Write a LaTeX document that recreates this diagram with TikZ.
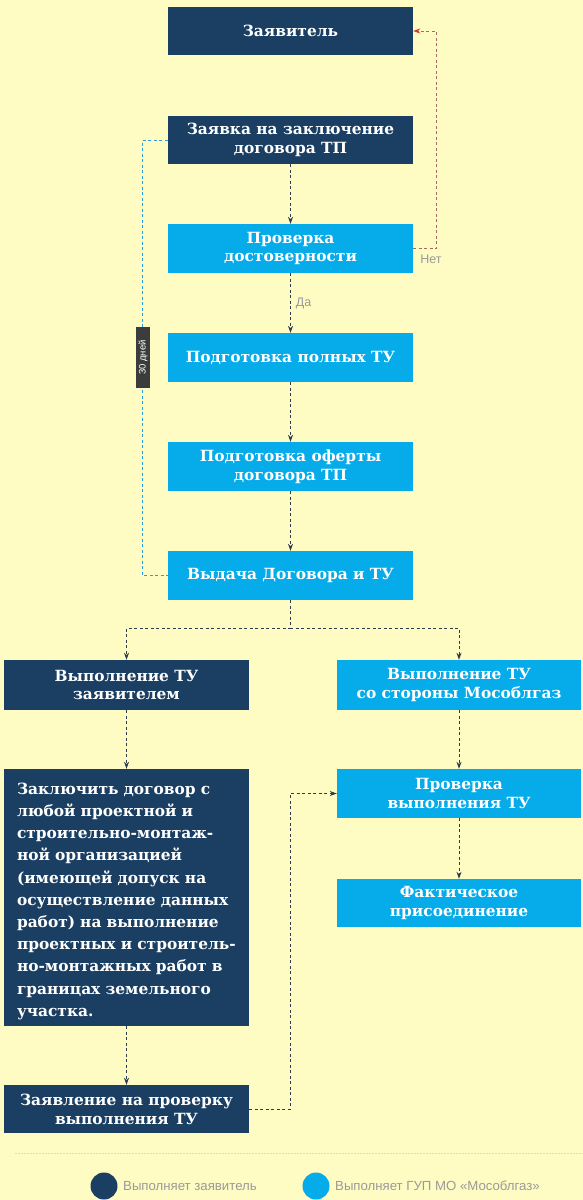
\documentclass[tikz,border=0pt]{standalone}
\usepackage{fontspec}
\setmainfont{Liberation Sans}
\newfontfamily\boxfont{DejaVu Serif}
\usetikzlibrary{arrows.meta}
\definecolor{bgc}{HTML}{FEFCC2}
\definecolor{navy}{HTML}{1A3F62}
\definecolor{sky}{HTML}{06ABEA}
\definecolor{lnc}{HTML}{2E3D4E}
\definecolor{bluel}{HTML}{2B9FD9}
\definecolor{redl}{HTML}{A86A62}
\definecolor{redt}{HTML}{E03030}
\definecolor{lblc}{HTML}{9A9A9A}
\definecolor{tagc}{HTML}{3C3C3C}
\definecolor{sepc}{HTML}{D2DCD0}
\tikzset{
  boxbase/.style={rectangle, text=white, minimum width=245pt, minimum height=49pt, inner sep=2pt,
    align=center, font=\boxfont\bfseries\fontsize{15.4}{18.8}\selectfont},
  darkbox/.style={boxbase, fill=navy},
  lightbox/.style={boxbase, fill=sky},
  conn/.style={lnc, line width=0.9pt, dash pattern=on 3pt off 2.5pt, -{Stealth[length=7pt,width=5pt]}},
  lbl/.style={text=lblc, font=\fontsize{12.5}{14}\selectfont, inner sep=0pt},
  leg/.style={text=lblc, font=\fontsize{13.2}{15}\selectfont, inner sep=0pt},
}
\begin{document}
\begin{tikzpicture}[x=1pt,y=-1pt]
\fill[bgc] (0,0) rectangle (583,1200);
\useasboundingbox (0,0) rectangle (583,1200);

\node[darkbox, minimum height=48pt] (zv) at (290.5,31) {Заявитель};
\node[darkbox, minimum height=48pt] (zk) at (290.5,140) {Заявка на заключение\\договора ТП};
\node[lightbox] (pd) at (290.5,248.5) {Проверка\\достоверности};
\node[lightbox] (pp) at (290.5,357.5) {Подготовка полных ТУ};
\node[lightbox] (po) at (290.5,466.5) {Подготовка оферты\\договора ТП};
\node[lightbox] (vd) at (290.5,575.5) {Выдача Договора и ТУ};

\node[darkbox, minimum height=50pt] (vz) at (126.5,685) {Выполнение ТУ\\заявителем};
\node[lightbox, minimum height=50pt, minimum width=244pt] (vm) at (459,685) {Выполнение ТУ\\со стороны Мособлгаз};

\node[darkbox, minimum height=257pt, text width=219pt, inner xsep=13pt, align=left,
  font=\boxfont\bfseries\fontsize{15.4}{22.2}\selectfont] (big) at (126.5,897.5)
  {\rule{0pt}{19pt}Заключить договор с\\любой проектной и\\строительно-монтаж-\\ной организацией\\(имеющей допуск на\\осуществление данных\\работ) на выполнение\\проектных и строитель-\\но-монтажных работ в\\границах земельного\\участка.};

\node[lightbox, minimum width=244pt] (pv) at (459,793.5) {Проверка\\выполнения ТУ};
\node[lightbox, minimum width=244pt, minimum height=48pt] (fp) at (459,903) {Фактическое\\присоединение};
\node[darkbox, minimum height=48pt] (zp) at (126.5,1109) {Заявление на проверку\\выполнения ТУ};

% main chain
\draw[conn] (zk.south) -- (pd.north);
\draw[conn] (pd.south) -- node[lbl, right=5pt, pos=0.5] (da) {Да} (pp.north);
\draw[conn] (pp.south) -- (po.north);
\draw[conn] (po.south) -- (vd.north);

% Нет loop
\draw[redl, line width=0.9pt, dash pattern=on 3pt off 2.5pt, -{Stealth[length=7pt,width=5pt,color=redt]}]
  (pd.east) -- ++(23,0) |- (zv.east);
\node[lbl] (net) at (431,259.5) {Нет};

% 30 days
\draw[bluel, line width=0.9pt, dash pattern=on 3pt off 2.5pt] (zk.west) -- ++(-25,0) |- (vd.west);
\node[fill=tagc, text=white, rotate=90, minimum width=61pt, minimum height=14pt, inner sep=0pt,
  font=\fontsize{9.5}{10}\selectfont] (days) at (143,357.5) {30 дней};

% split
\draw[conn] (vd.south) -- ++(0,28) -| (vz.north);
\draw[conn] (vd.south) -- ++(0,28) -| (vm.north);

\draw[conn] (vz.south) -- (big.north);
\draw[conn] (vm.south) -- (pv.north);
\draw[conn] (big.south) -- (zp.north);
\draw[conn] (pv.south) -- (fp.north);
\draw[conn] (zp.east) -- ++(41,0) |- (pv.west);

% legend
\draw[sepc, line width=0.8pt, dash pattern=on 1.5pt off 1.5pt] (15,1153) -- (583,1153);
\node[fill=navy, circle, minimum size=27pt, inner sep=0pt] (lg1) at (104,1186) {};
\node[leg, anchor=west] (lt1) at (123,1186) {Выполняет заявитель};
\node[fill=sky, circle, minimum size=27pt, inner sep=0pt] (lg2) at (316,1186) {};
\node[leg, anchor=west] (lt2) at (335,1186) {Выполняет ГУП МО «Мособлгаз»};
\end{tikzpicture}
\end{document}
